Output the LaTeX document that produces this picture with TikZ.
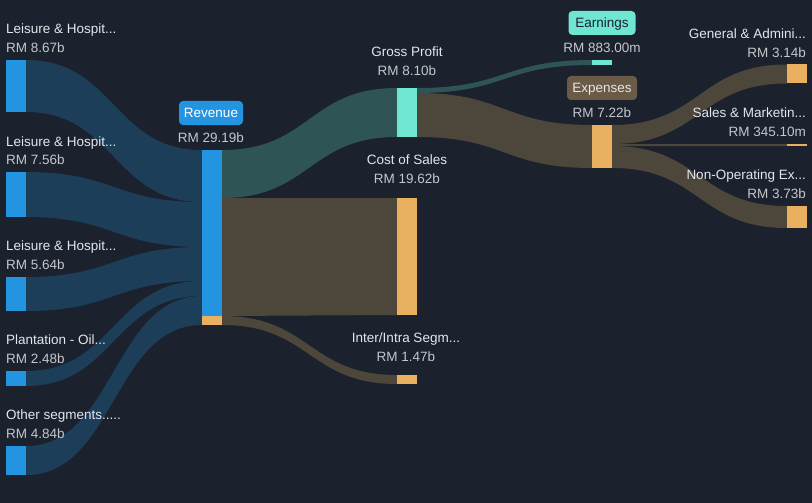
\documentclass[tikz,border=0pt]{standalone}
\usepackage{fontspec}
\setmainfont{Liberation Sans}
\definecolor{bgdark}{HTML}{1B212D}
\definecolor{barblue}{HTML}{2394DF}
\definecolor{barteal}{HTML}{6EE6D2}
\definecolor{barorange}{HTML}{E8B05F}
\definecolor{linkblue}{HTML}{1D3E58}
\definecolor{linkteal}{HTML}{2E5455}
\definecolor{linkbrown}{HTML}{4D463B}
\definecolor{tagbrown}{HTML}{6B5A46}
\definecolor{namegray}{HTML}{E4E6EA}
\definecolor{valgray}{HTML}{C4C7CC}
\tikzset{
 bar/.style={draw=none, inner sep=0pt, minimum width=20pt},
 flowlbl/.style={inner sep=0pt, text height=9.6pt, text depth=0pt, font=\fontsize{13.5}{15}\selectfont},
 flowname/.style={flowlbl, text=namegray},
 flowvalue/.style={flowlbl, text=valgray},
 flowtag/.style={flowlbl, rounded corners=4pt, minimum height=24pt},
}
\newcommand{\band}[7]{%
 \fill[#1] (#2.east |- 0,#3) .. controls +(88,0) and +(-88,0) .. (#5.west |- 0,#6)
  -- (#5.west |- 0,#7) .. controls +(-88,0) and +(88,0) .. (#2.east |- 0,#4) -- cycle;}
\begin{document}
\begin{tikzpicture}[x=1pt, y=-1pt]
        \fill[bgdark] (0,0) rectangle (812,503);
        \useasboundingbox (0,0) rectangle (812,503);
        \node[bar, fill=barblue, minimum height=52pt] (lh1) at (16,86) {};
        \node[bar, fill=barblue, minimum height=45pt] (lh2) at (16,194.5) {};
        \node[bar, fill=barblue, minimum height=34pt] (lh3) at (16,294) {};
        \node[bar, fill=barblue, minimum height=15pt] (plant) at (16,378.5) {};
        \node[bar, fill=barblue, minimum height=29pt] (other) at (16,460.5) {};
        \node[bar, fill=barblue, minimum height=166pt] (rev) at (212,233) {};
        \node[bar, fill=barorange, minimum height=9pt] (revx) at (212,320.5) {};
        \node[bar, fill=barteal, minimum height=49pt] (gp) at (407,112.5) {};
        \node[bar, fill=barorange, minimum height=117pt] (cost) at (407,256.5) {};
        \node[bar, fill=barorange, minimum height=9pt] (inter) at (407,379.5) {};
        \node[bar, fill=barteal, minimum height=5pt] (earn) at (602,62.5) {};
        \node[bar, fill=barorange, minimum height=43pt] (exp) at (602,146.5) {};
        \node[bar, fill=barorange, minimum height=19pt] (ga) at (797,74) {};
        \node[bar, fill=barorange, minimum height=2pt] (sm) at (797,145) {};
        \node[bar, fill=barorange, minimum height=22pt] (nonop) at (797,217) {};
        \band{linkblue}{lh1}{60}{112}{rev}{150}{202}
        \band{linkblue}{lh2}{172}{217}{rev}{202}{247}
        \band{linkblue}{lh3}{277}{311}{rev}{247}{281}
        \band{linkblue}{plant}{371}{386}{rev}{281}{296}
        \band{linkblue}{other}{446}{475}{rev}{296}{325}
        \band{linkteal}{rev}{150}{198}{gp}{88}{137}
        \band{linkbrown}{rev}{198}{316}{cost}{198}{315}
        \band{linkbrown}{revx}{316}{325}{inter}{375}{384}
        \band{linkteal}{gp}{88}{93}{earn}{60}{65}
        \band{linkbrown}{gp}{93}{137}{exp}{125}{168}
        \band{linkbrown}{exp}{125}{144}{ga}{64.5}{83.5}
        \band{linkbrown}{exp}{144}{146}{sm}{144}{146}
        \band{linkbrown}{exp}{146}{168}{nonop}{206}{228}
        \node[flowname, anchor=west] (lh1n) at (6,29) {Leisure \& Hospit...};
        \node[flowvalue, anchor=west] (lh1v) at (6,48) {RM 8.67b};
        \node[flowname, anchor=west] (lh2n) at (6,141.5) {Leisure \& Hospit...};
        \node[flowvalue, anchor=west] (lh2v) at (6,160) {RM 7.56b};
        \node[flowname, anchor=west] (lh3n) at (6,246) {Leisure \& Hospit...};
        \node[flowvalue, anchor=west] (lh3v) at (6,265) {RM 5.64b};
        \node[flowname, anchor=west] (plantn) at (6,340) {Plantation - Oil...};
        \node[flowvalue, anchor=west] (plantv) at (6,358.5) {RM 2.48b};
        \node[flowname, anchor=west] (othern) at (6,415) {Other segments.....};
        \node[flowvalue, anchor=west] (otherv) at (6,434) {RM 4.84b};
        \node[flowtag, fill=barblue, text=white, minimum width=64pt] (revt) at (211,113) {Revenue};
        \node[flowvalue] (revv) at (211,138) {RM 29.19b};
        \node[flowname] (gpn) at (407,52) {Gross Profit};
        \node[flowvalue] (gpv) at (407,71) {RM 8.10b};
        \node[flowname] (costn) at (407,160) {Cost of Sales};
        \node[flowvalue] (costv) at (407,179) {RM 19.62b};
        \node[flowname] (intern) at (406,338) {Inter/Intra Segm...};
        \node[flowvalue] (interv) at (406,357) {RM 1.47b};
        \node[flowtag, fill=barteal, text=bgdark, minimum width=67pt] (earnt) at (602,23) {Earnings};
        \node[flowvalue] (earnv) at (602,48) {RM 883.00m};
        \node[flowtag, fill=tagbrown, text=namegray, minimum width=70pt] (expt) at (602,88) {Expenses};
        \node[flowvalue] (expv) at (602,113) {RM 7.22b};
        \node[flowname, anchor=east] (gan) at (806,34) {General \& Admini...};
        \node[flowvalue, anchor=east] (gav) at (806,53) {RM 3.14b};
        \node[flowname, anchor=east] (smn) at (806,113) {Sales \& Marketin...};
        \node[flowvalue, anchor=east] (smv) at (806,132) {RM 345.10m};
        \node[flowname, anchor=east] (nonopn) at (806,175) {Non-Operating Ex...};
        \node[flowvalue, anchor=east] (nonopv) at (806,194) {RM 3.73b};
\end{tikzpicture}
\end{document}
